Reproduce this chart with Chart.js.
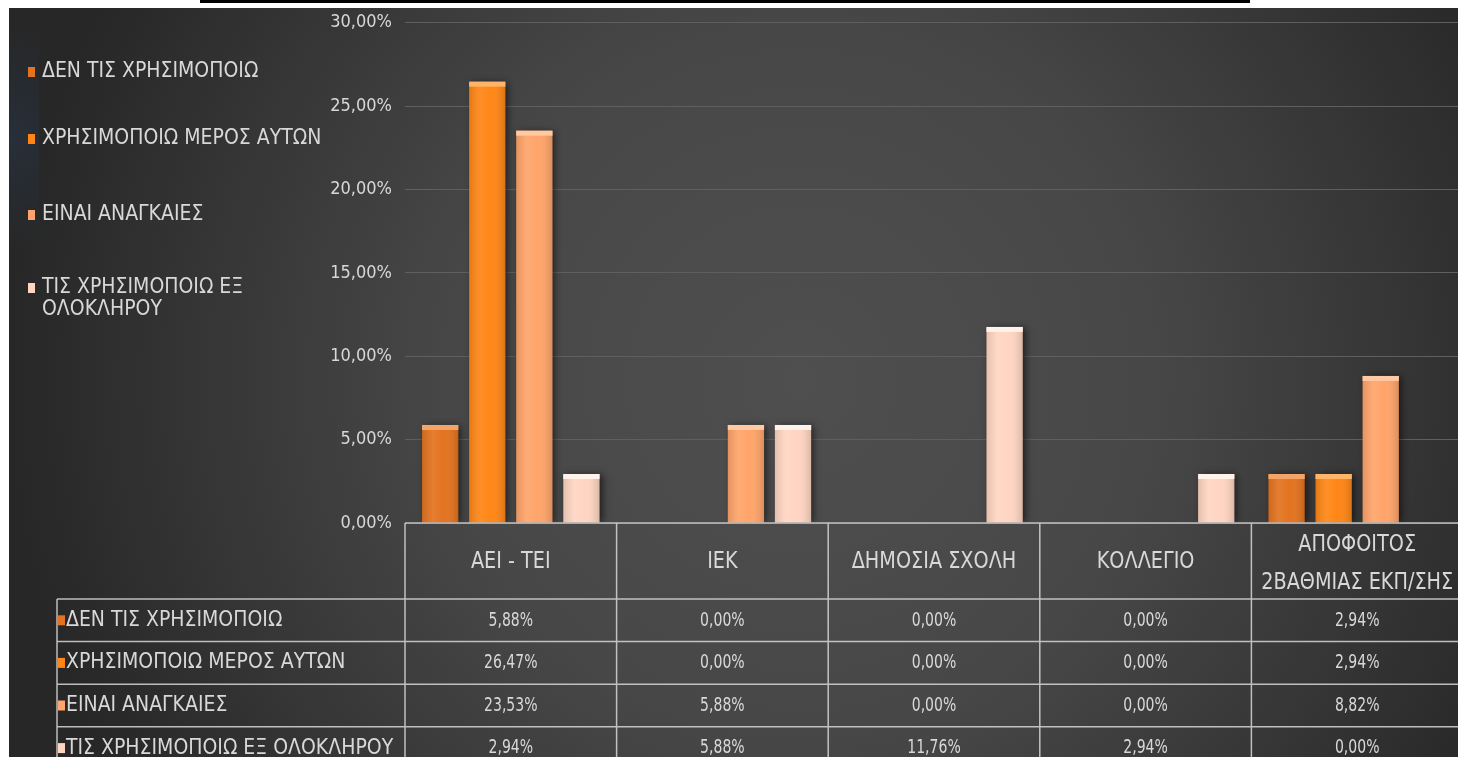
<!DOCTYPE html>
<html lang="el">
<head>
<meta charset="utf-8">
<title>Χρήση σημειώσεων ανά εκπαίδευση</title>
<script src="https://cdn.jsdelivr.net/npm/chart.js@4/dist/chart.umd.min.js"></script>
<style>
  html, body { margin: 0; padding: 0; background: #ffffff; overflow: hidden; width: 1458px; height: 757px; }
  #rule { position: absolute; left: 200px; top: 0; width: 1050px; height: 3px; background: #000; }
  #wrap { position: absolute; left: 9px; top: 8px; width: 1461px; height: 749px; }
  canvas { display: block; }
</style>
</head>
<body>
<div id="rule"></div>
<div id="wrap"><canvas id="chart" width="1461" height="749"></canvas></div>
<script>
// Categories (education level) and the four answer series, in percent
const categories = ['ΑΕΙ - ΤΕΙ', 'ΙΕΚ', 'ΔΗΜΟΣΙΑ ΣΧΟΛΗ', 'ΚΟΛΛΕΓΙΟ', ['ΑΠΟΦΟΙΤΟΣ', '2ΒΑΘΜΙΑΣ ΕΚΠ/ΣΗΣ']];
const seriesNames = ['ΔΕΝ ΤΙΣ ΧΡΗΣΙΜΟΠΟΙΩ', 'ΧΡΗΣΙΜΟΠΟΙΩ ΜΕΡΟΣ ΑΥΤΩΝ', 'ΕΙΝΑΙ ΑΝΑΓΚΑΙΕΣ', 'ΤΙΣ ΧΡΗΣΙΜΟΠΟΙΩ ΕΞ ΟΛΟΚΛΗΡΟΥ'];
const legendLines = [['ΔΕΝ ΤΙΣ ΧΡΗΣΙΜΟΠΟΙΩ'], ['ΧΡΗΣΙΜΟΠΟΙΩ ΜΕΡΟΣ ΑΥΤΩΝ'], ['ΕΙΝΑΙ ΑΝΑΓΚΑΙΕΣ'], ['ΤΙΣ ΧΡΗΣΙΜΟΠΟΙΩ ΕΞ', 'ΟΛΟΚΛΗΡΟΥ']];
const notUsing  = [5.88, 0.00, 0.00, 0.00, 2.94];
const usePart   = [26.47, 0.00, 0.00, 0.00, 2.94];
const necessary = [23.53, 5.88, 0.00, 0.00, 8.82];
const useFully  = [2.94, 5.88, 11.76, 2.94, 0.00];
const yMin = 0, yMax = 30, yStep = 5;

const seriesColors = ['#E3731F', '#FF8616', '#FFA46A', '#FFD5C2'];
const capColors    = ['#F5A468', '#FFB468', '#FFC9A4', '#FFF2EA'];
const FONT = "'Liberation Sans Narrow', 'DejaVu Sans Condensed', sans-serif";
const TEXT = '#d8d8d8';
const LINE = 'rgba(215,215,215,0.85)';

const pct = v => v.toFixed(2).replace('.', ',') + '%';

// Text drawn with a horizontal squeeze factor
function squeezedText(ctx, text, x, y, sx) {
  ctx.save();
  ctx.translate(x, y);
  ctx.scale(sx, 1);
  ctx.fillText(text, 0, 0);
  ctx.restore();
}

// Dark radial backdrop
const backdrop = {
  id: 'backdrop',
  beforeDraw(chart) {
    const { ctx, width, height } = chart;
    ctx.save();
    const g = ctx.createRadialGradient(791, 372, 0, 791, 372, 790);
    g.addColorStop(0, '#4f4f4f');
    g.addColorStop(0.45, '#474747');
    g.addColorStop(0.75, '#363636');
    g.addColorStop(1, '#272727');
    ctx.fillStyle = g;
    ctx.fillRect(0, 0, width, height);
    const b = ctx.createRadialGradient(0, 130, 0, 0, 130, 110);
    b.addColorStop(0, 'rgba(40,75,120,0.22)');
    b.addColorStop(1, 'rgba(40,75,120,0)');
    ctx.fillStyle = b;
    ctx.fillRect(0, 20, 30, 220);
    ctx.restore();
  }
};

// Soft shadow behind the bars, plus top caps and side shading
const barFinish = {
  id: 'barFinish',
  beforeDatasetsDraw(chart) {
    const ctx = chart.ctx;
    ctx.save();
    ctx.shadowColor = 'rgba(0,0,0,0.55)';
    ctx.shadowBlur = 7;
    ctx.shadowOffsetX = 3;
    ctx.shadowOffsetY = 0;
  },
  afterDatasetsDraw(chart) {
    const ctx = chart.ctx;
    ctx.restore();
    ctx.save();
    chart.data.datasets.forEach((ds, di) => {
      chart.getDatasetMeta(di).data.forEach(el => {
        const { x, y, base, width } = el.getProps(['x', 'y', 'base', 'width'], true);
        const h = base - y;
        if (h < 1) return;
        const left = x - width / 2;
        const g = ctx.createLinearGradient(left, 0, left + width, 0);
        g.addColorStop(0, 'rgba(0,0,0,0.10)');
        g.addColorStop(0.3, 'rgba(255,255,255,0.08)');
        g.addColorStop(0.6, 'rgba(255,255,255,0)');
        g.addColorStop(1, 'rgba(0,0,0,0.14)');
        ctx.fillStyle = g;
        ctx.fillRect(left, y, width, h);
        ctx.fillStyle = capColors[di];
        ctx.fillRect(left, y, width, Math.min(5, h));
      });
    });
    ctx.restore();
  }
};

// Legend at the left and data table under the plot
const legendAndTable = {
  id: 'legendAndTable',
  afterDraw(chart) {
    const { ctx, chartArea, scales: { x } } = chart;
    ctx.save();
    ctx.textBaseline = 'middle';

    // legend
    const legendY = [64, 131, 207, 280];
    ctx.font = `21px ${FONT}`;
    seriesNames.forEach((name, i) => {
      ctx.fillStyle = seriesColors[i];
      ctx.fillRect(19, legendY[i] - 5, 7, 10);
      ctx.fillStyle = TEXT;
      ctx.textAlign = 'left';
      legendLines[i].forEach((line, k) => ctx.fillText(line, 33, legendY[i] + k * 22));
    });

    // table grid
    const top = chartArea.bottom;
    const headBottom = top + 76;
    const rowH = 42.6;
    const labelLeft = 48;
    const right = chart.width;
    const step = x.getPixelForValue(1) - x.getPixelForValue(0);
    ctx.strokeStyle = LINE;
    ctx.lineWidth = 1.5;
    ctx.beginPath();
    ctx.moveTo(chartArea.left, top); ctx.lineTo(right, top);
    for (let r = 0; r <= seriesNames.length; r++) {
      const yy = headBottom + r * rowH;
      ctx.moveTo(labelLeft, yy); ctx.lineTo(right, yy);
    }
    ctx.moveTo(labelLeft, headBottom); ctx.lineTo(labelLeft, chart.height);
    categories.forEach((c, i) => {
      const xx = x.getPixelForValue(i) - step / 2;
      ctx.moveTo(xx, top); ctx.lineTo(xx, chart.height);
    });
    ctx.stroke();

    // header labels
    ctx.fillStyle = TEXT;
    ctx.textAlign = 'center';
    ctx.font = `23px ${FONT}`;
    const headMid = (top + headBottom) / 2;
    categories.forEach((c, i) => {
      const cx = x.getPixelForValue(i);
      const lines = Array.isArray(c) ? c : [c];
      lines.forEach((line, k) => {
        const off = lines.length > 1 ? (k - 0.5) * 38 + 3 : 1;
        squeezedText(ctx, line, cx, headMid + off, 0.93);
      });
    });

    // rows
    const rows = [notUsing, usePart, necessary, useFully];
    rows.forEach((vals, r) => {
      const cy = headBottom + r * rowH + rowH / 2;
      ctx.fillStyle = seriesColors[r];
      ctx.fillRect(49, cy - 5, 7, 10);
      ctx.fillStyle = TEXT;
      ctx.textAlign = 'left';
      ctx.font = `21px ${FONT}`;
      ctx.fillText(seriesNames[r], 57, cy);
      ctx.textAlign = 'center';
      ctx.font = `20px ${FONT}`;
      vals.forEach((v, i) => squeezedText(ctx, pct(v), x.getPixelForValue(i), cy, 0.78));
    });
    ctx.restore();
  }
};

new Chart(document.getElementById('chart'), {
  type: 'bar',
  data: {
    labels: categories,
    datasets: [
      { label: seriesNames[0], data: notUsing,  backgroundColor: seriesColors[0] },
      { label: seriesNames[1], data: usePart,   backgroundColor: seriesColors[1] },
      { label: seriesNames[2], data: necessary, backgroundColor: seriesColors[2] },
      { label: seriesNames[3], data: useFully,  backgroundColor: seriesColors[3] }
    ]
  },
  options: {
    responsive: false,
    animation: false,
    devicePixelRatio: 1,
    layout: { padding: { left: 0, top: 12, right: 7, bottom: 234 } },
    datasets: { bar: { categoryPercentage: 0.89, barPercentage: 0.77, borderWidth: 0 } },
    plugins: { legend: { display: false }, tooltip: { enabled: false } },
    scales: {
      x: { display: false, offset: true },
      y: {
        min: yMin, max: yMax,
        ticks: { stepSize: yStep, callback: v => pct(v), color: TEXT, font: { family: FONT, size: 18, lineHeight: 0.2 }, padding: 13 },
        grid: { color: '#5f5f5f', lineWidth: 1, drawTicks: false },
        border: { display: false },
        afterFit(scale) { scale.width = 396; }
      }
    }
  },
  plugins: [backdrop, barFinish, legendAndTable]
});
</script>
</body>
</html>
